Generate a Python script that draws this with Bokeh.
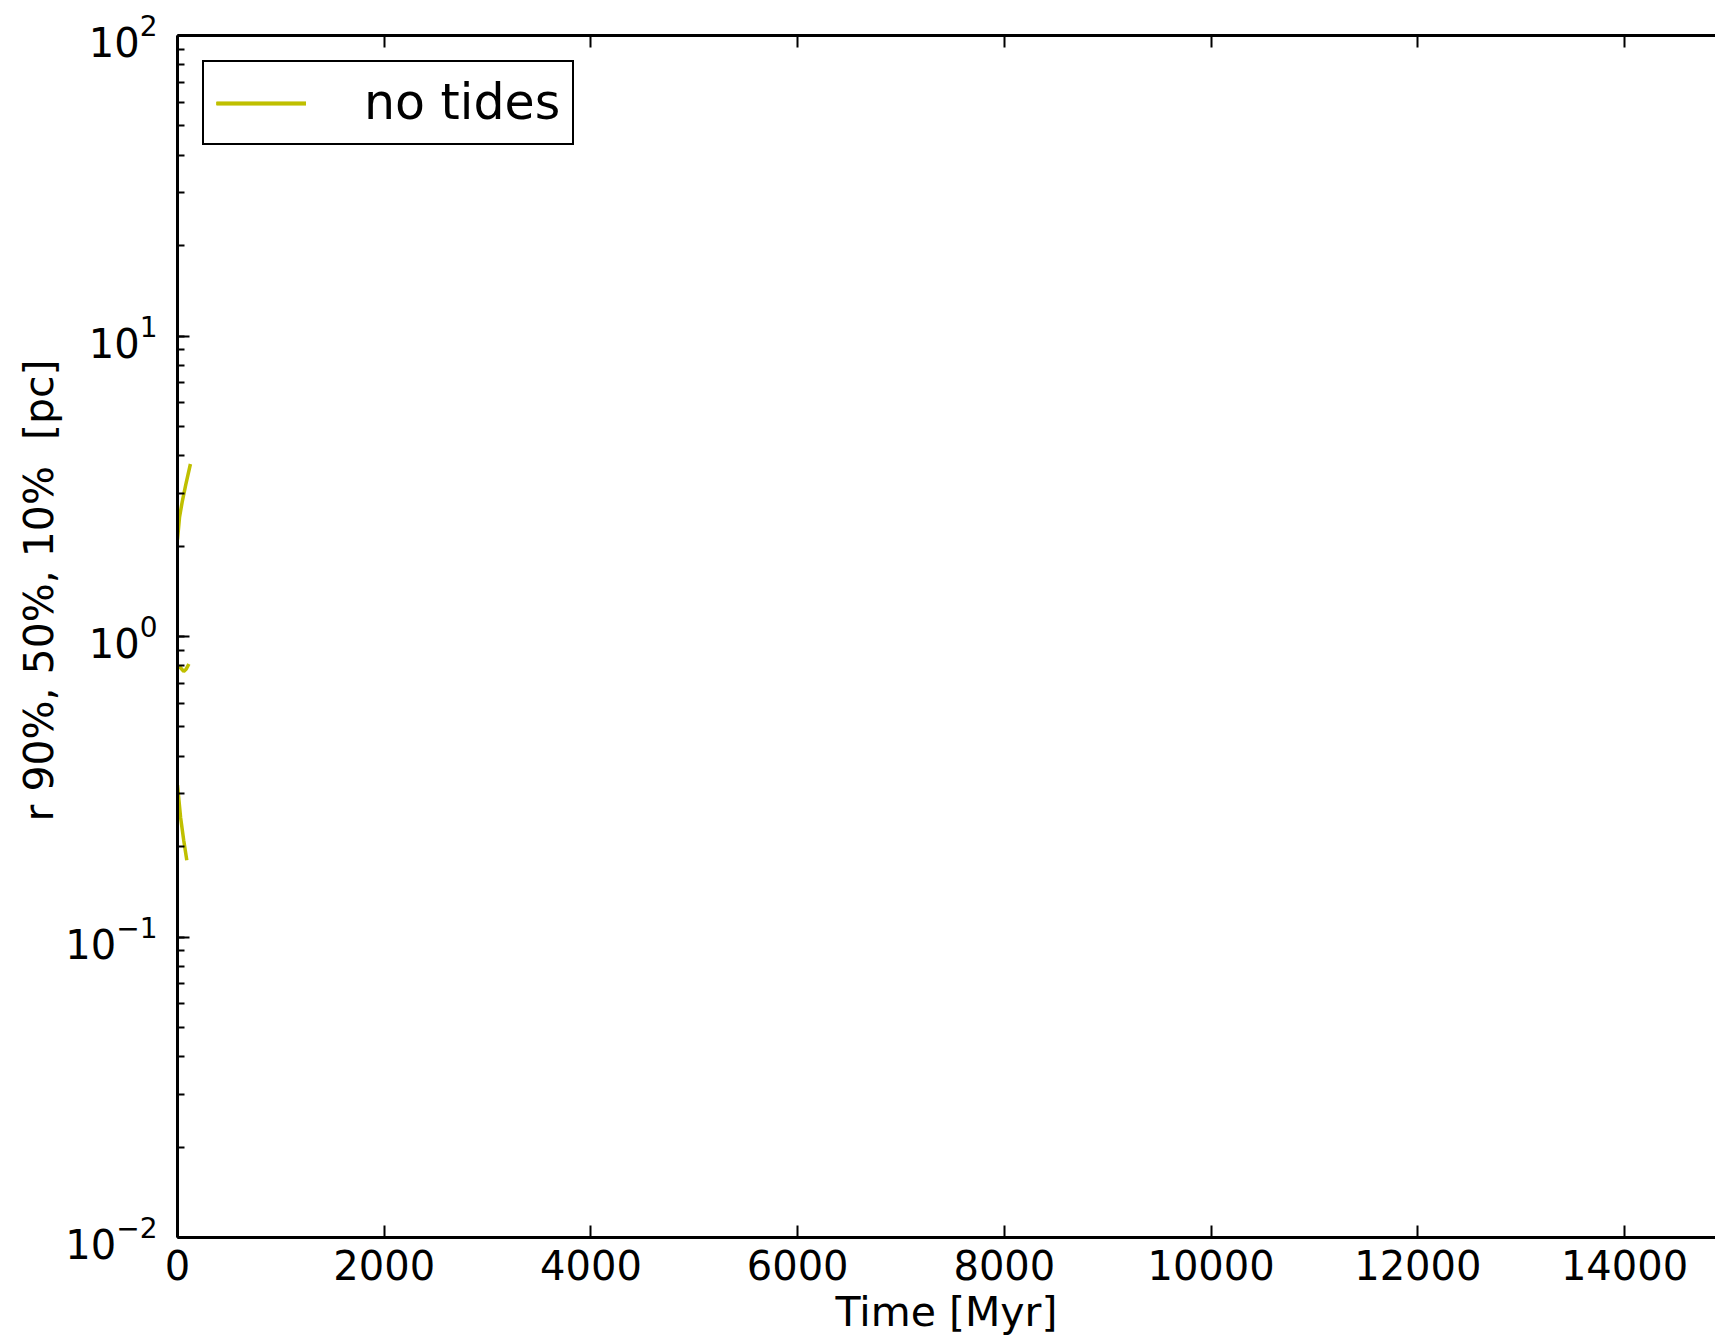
from bokeh.plotting import figure
from bokeh.models import (Range1d, LinearAxis, FixedTicker, CustomJSTickFormatter,
                          Legend, LegendItem, Title)
from bokeh.embed import file_html
from bokeh.resources import INLINE

# Lagrangian radii of the cluster without tidal field [pc] vs time [Myr]
time_r90 = [0, 20, 45, 80, 125]
r90 = [2.1, 2.5, 2.8, 3.2, 3.75]

time_r50 = [0, 25, 60, 85, 110]
r50 = [0.79, 0.79, 0.765, 0.78, 0.81]

time_r10 = [0, 30, 60, 90]
r10 = [0.32, 0.25, 0.21, 0.18]

x_ticks = [0, 2000, 4000, 6000, 8000, 10000, 12000, 14000]
legend_label = "no tides"
x_label = "Time [Myr]"
y_label = "r 90%, 50%, 10%\u00a0 [pc]"

FONT = "DejaVu Sans"
COLOR = "#bfbf00"
INK = "black"

p = figure(width=1715, height=1339,
           x_range=Range1d(0, 14880), y_range=Range1d(0.01, 100),
           y_axis_type="log", output_backend="svg", toolbar_location=None,
           min_border_left=177, min_border_right=0,
           min_border_top=35, min_border_bottom=102,
           background_fill_color="white", border_fill_color="white",
           outline_line_color=None)
p.xgrid.grid_line_color = None
p.ygrid.grid_line_color = None

lines = []
for t, r in ((time_r90, r90), (time_r50, r50), (time_r10, r10)):
    lines.append(p.line(t, r, line_color=COLOR, line_width=3.5))

# bottom axis
xa = p.xaxis[0]
xa.ticker = FixedTicker(ticks=x_ticks)
xa.axis_label = x_label
xa.axis_label_text_font = FONT
xa.axis_label_text_font_size = "41px"
xa.axis_label_text_font_style = "normal"
xa.axis_label_text_color = INK
xa.axis_label_standoff = 5
xa.major_label_text_font = FONT
xa.major_label_text_font_size = "40px"
xa.major_label_text_color = INK
xa.major_label_standoff = 12
xa.major_tick_in = 12
xa.major_tick_out = 0
xa.major_tick_line_width = 2
xa.major_tick_line_color = INK
xa.minor_tick_line_color = None
xa.axis_line_width = 3
xa.axis_line_color = INK

# left axis
ya = p.yaxis[0]
ya.major_label_text_font = FONT
ya.major_label_text_font_size = "40px"
ya.major_label_text_color = INK
ya.major_label_standoff = 20
ya.major_tick_in = 12
ya.major_tick_out = 0
ya.minor_tick_in = 7
ya.minor_tick_out = 0
ya.major_tick_line_width = 2
ya.minor_tick_line_width = 2
ya.major_tick_line_color = INK
ya.minor_tick_line_color = INK
ya.axis_line_width = 3
ya.axis_line_color = INK

# mirrored ticks along the top edge
top = LinearAxis(ticker=FixedTicker(ticks=x_ticks),
                 formatter=CustomJSTickFormatter(code="return ''"),
                 major_tick_in=12, major_tick_out=0, major_tick_line_width=2,
                 major_tick_line_color=INK,
                 minor_tick_line_color=None, axis_line_width=3,
                 axis_line_color=INK, major_label_standoff=0)
p.add_layout(top, "above")

# y label
p.add_layout(Title(text=y_label, align="left", offset=416,
                   text_font=FONT, text_font_size="41px",
                   text_font_style="normal", text_color=INK,
                   standoff=0), "left")

legend = Legend(items=[LegendItem(label=legend_label, renderers=lines)],
                location="top_left", margin=25, padding=12, spacing=0,
                glyph_width=90, label_standoff=58,
                label_text_font=FONT, label_text_font_size="49px",
                label_text_color=INK,
                border_line_color=INK, border_line_width=2.5,
                border_line_alpha=1,
                background_fill_color="white", background_fill_alpha=1)
p.add_layout(legend)

with open("out.html", "w", encoding="utf-8") as f:
    f.write(file_html(p, INLINE))
